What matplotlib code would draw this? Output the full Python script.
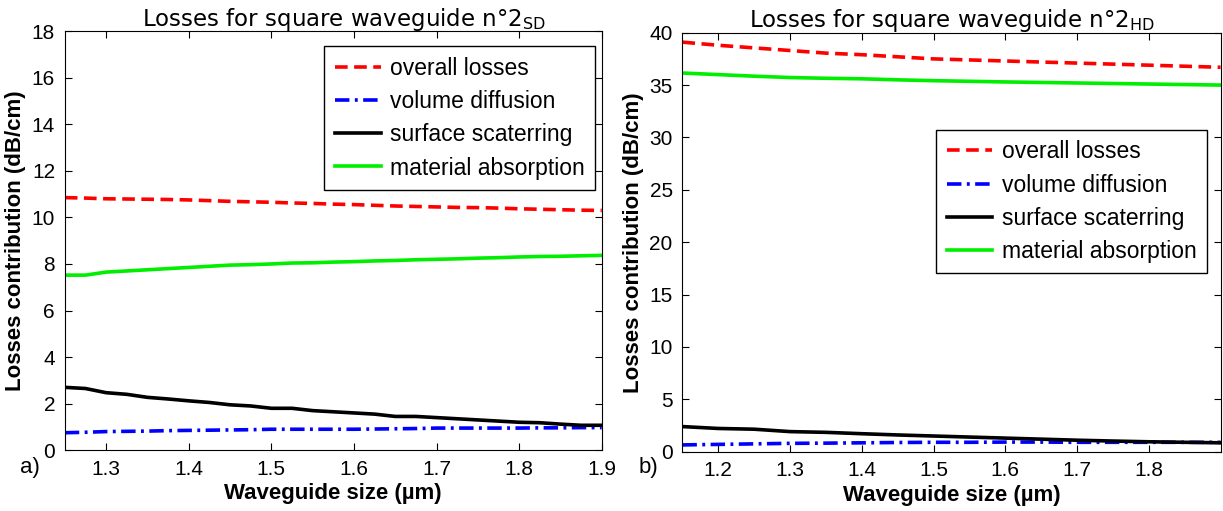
import numpy as np
import matplotlib
matplotlib.use('Agg')
import matplotlib.pyplot as plt

plt.rcParams['font.family'] = ['Liberation Sans', 'DejaVu Sans']

# panel a) square waveguide n°2 SD
size_sd = [1.25, 1.275, 1.3, 1.325, 1.35, 1.375, 1.4, 1.425, 1.45, 1.475, 1.5, 1.525, 1.55, 1.575,
           1.6, 1.625, 1.65, 1.675, 1.7, 1.725, 1.75, 1.775, 1.8, 1.825, 1.85, 1.875, 1.9]
overall_sd = [10.85, 10.83, 10.8, 10.79, 10.78, 10.77, 10.75, 10.72, 10.69, 10.67, 10.65, 10.62, 10.6, 10.57,
              10.55, 10.52, 10.49, 10.47, 10.45, 10.43, 10.42, 10.4, 10.37, 10.35, 10.33, 10.31, 10.3]
volume_sd = [0.75, 0.77, 0.8, 0.81, 0.82, 0.84, 0.85, 0.86, 0.87, 0.88, 0.9, 0.9, 0.9, 0.9,
             0.9, 0.91, 0.92, 0.93, 0.95, 0.95, 0.95, 0.95, 0.95, 0.96, 0.96, 0.97, 0.97]
surface_sd = [2.7, 2.65, 2.47, 2.4, 2.27, 2.2, 2.12, 2.05, 1.95, 1.9, 1.8, 1.8, 1.7, 1.65,
              1.6, 1.55, 1.45, 1.45, 1.4, 1.35, 1.3, 1.25, 1.2, 1.18, 1.12, 1.07, 1.07]
material_sd = [7.52, 7.52, 7.65, 7.7, 7.75, 7.8, 7.85, 7.9, 7.95, 7.97, 8.0, 8.04, 8.05, 8.08,
               8.1, 8.13, 8.15, 8.18, 8.2, 8.22, 8.25, 8.27, 8.3, 8.32, 8.33, 8.35, 8.37]

# panel b) square waveguide n°2 HD
size_hd = [1.15, 1.2, 1.25, 1.3, 1.35, 1.4, 1.45, 1.5, 1.55, 1.6, 1.65, 1.7, 1.75, 1.8, 1.85, 1.9]
overall_hd = [39.1, 38.8, 38.55, 38.3, 38.05, 37.9, 37.7, 37.5, 37.4, 37.3, 37.2, 37.1, 37.0, 36.9, 36.8, 36.7]
volume_hd = [0.65, 0.7, 0.75, 0.8, 0.82, 0.85, 0.88, 0.9, 0.9, 0.92, 0.92, 0.9, 0.9, 0.9, 0.9, 0.9]
surface_hd = [2.4, 2.22, 2.15, 1.92, 1.85, 1.72, 1.6, 1.5, 1.4, 1.3, 1.2, 1.1, 1.02, 0.95, 0.9, 0.85]
material_hd = [36.15, 36.0, 35.85, 35.72, 35.65, 35.6, 35.5, 35.42, 35.36, 35.3, 35.25, 35.2, 35.15, 35.1, 35.05, 35.0]

labels = ['overall losses', 'volume diffusion', 'surface scaterring', 'material absorption']


def draw(ax, x, overall, volume, surface, material):
    ax.plot(x, overall, color='#ff0000', ls=(0, (3.5, 1.8)), lw=2.6, label=labels[0])
    ax.plot(x, volume, color='#0000ff', ls=(0, (4, 1.5, 0.8, 1.5)), lw=2.6, label=labels[1])
    ax.plot(x, surface, color='black', lw=2.6, label=labels[2])
    ax.plot(x, material, color='#00ee00', lw=2.6, label=labels[3])
    ax.set_xlabel('Waveguide size (\u00b5m)', fontsize=16, fontweight='bold', labelpad=3)
    ax.set_ylabel('Losses contribution (dB/cm)', fontsize=16, fontweight='bold')
    ax.tick_params(direction='in', labelsize=15, length=5, top=True, right=True, pad=7)


def legend(ax, anchor):
    ax.legend(loc='upper right', bbox_to_anchor=anchor, fontsize=16.5, frameon=True,
              fancybox=False, edgecolor='black', handlelength=2.0, borderpad=0.45,
              labelspacing=0.45, handletextpad=0.4, borderaxespad=0, framealpha=1)


fig = plt.figure(figsize=(12.23, 5.11), dpi=100)

ax1 = fig.add_axes([0.053, 0.119, 0.439, 0.82])
draw(ax1, size_sd, overall_sd, volume_sd, surface_sd, material_sd)
ax1.set_xlim(1.25, 1.9)
ax1.set_ylim(0, 18)
ax1.set_xticks([1.3, 1.4, 1.5, 1.6, 1.7, 1.8, 1.9])
ax1.set_yticks(range(0, 19, 2))
ax1.set_title(r'Losses for square waveguide n°2$_{\mathregular{SD}}$', fontsize=16.5,
              family='DejaVu Sans', pad=4, x=0.52)
legend(ax1, (0.987, 0.964))
fig.text(0.016, 0.075, 'a)', fontsize=16)

ax2 = fig.add_axes([0.558, 0.116, 0.44, 0.82])
draw(ax2, size_hd, overall_hd, volume_hd, surface_hd, material_hd)
ax2.set_xlim(1.15, 1.9)
ax2.set_ylim(0, 40)
ax2.set_xticks([1.2, 1.3, 1.4, 1.5, 1.6, 1.7, 1.8])
ax2.set_yticks(range(0, 41, 5))
ax2.set_title(r'Losses for square waveguide n°2$_{\mathregular{HD}}$', fontsize=16.5,
              family='DejaVu Sans', pad=4)
legend(ax2, (0.974, 0.768))
fig.text(0.522, 0.075, 'b)', fontsize=16)

fig.savefig('out.png', dpi=100)
